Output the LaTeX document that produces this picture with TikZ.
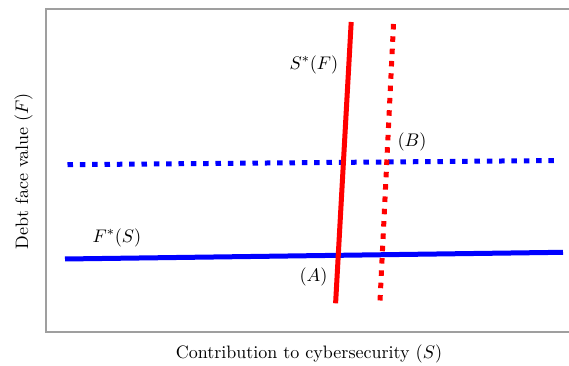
\documentclass[tikz,border=0pt]{standalone}
\begin{document}
\begin{tikzpicture}[x=0.6pt,y=-0.6pt,
  frame/.style={draw=gray!75, line width=0.9pt},
  solidline/.style={line width=3pt},
  dotline/.style={line width=3pt, dash pattern=on 3.3pt off 4.1pt},
  lbl/.style={inner sep=0pt, font=\fontsize{10.8}{13}\selectfont}]
\useasboundingbox (0,0) rectangle (569,366);
\clip (0,0) rectangle (569,366);
% frame
\coordinate (ftr) at (580,9);
\coordinate (ftl) at (46,9);
\coordinate (fbl) at (46,332);
\coordinate (fbr) at (580,332);
\draw[frame] (ftr) -- (ftl) -- (fbl) -- (fbr);
% curves
\coordinate (bs1) at (65,259);
\coordinate (bs2) at (563,252.3);
\coordinate (bd1) at (67.5,164.7);
\coordinate (bd2) at (560.6,160.5);
\coordinate (rs1) at (351.2,22);
\coordinate (rs2) at (335.6,303.3);
\coordinate (rd1) at (393.5,24);
\coordinate (rd2) at (380,301);
\draw[dotline, blue] (bd1) -- (bd2);
\draw[solidline, blue] (bs1) -- (bs2);
\draw[dotline, red] (rd1) -- (rd2);
\draw[solidline, red] (rs1) -- (rs2);
% labels
\node[lbl] (lS) at (314,65) {$S^*(F)$};
\node[lbl] (lB) at (412,142) {$(B)$};
\node[lbl] (lF) at (117,238) {$F^*(S)$};
\node[lbl] (lA) at (313.5,277) {$(A)$};
\node[lbl, rotate=90] (ylab) at (23.5,171) {Debt face value $(F)$};
\node[lbl] (xlab) at (309,354) {Contribution to cybersecurity $(S)$};
\end{tikzpicture}
\end{document}
